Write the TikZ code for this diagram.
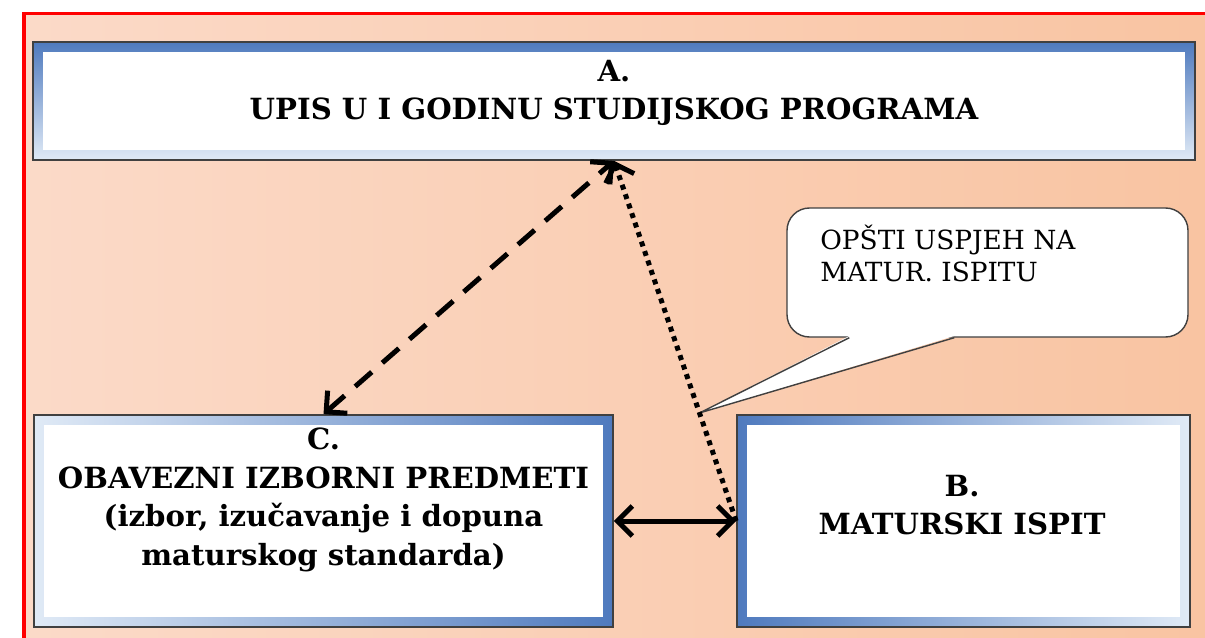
\documentclass[tikz,border=0pt]{standalone}
\usepackage{fontspec}
\setmainfont{DejaVu Serif}
\usetikzlibrary{arrows.meta,calc}
\definecolor{peachL}{RGB}{251,218,200}
\definecolor{peachR}{RGB}{249,196,162}
\definecolor{frameblue}{RGB}{79,122,190}
\definecolor{framelight}{RGB}{224,234,246}
\tikzset{
mybox/.style={
  draw=black!75,
  line width=1pt,
  fill=white,
  minimum height=4.24cm,
  inner sep=0pt
  },
frame/.style={
  path picture={
    \shade[#1] (path picture bounding box.south west)
      rectangle (path picture bounding box.north east);
    \fill[white] ([shift={(0.2,0.2)}]path picture bounding box.south west)
      rectangle ([shift={(-0.2,-0.2)}]path picture bounding box.north east);
    }
  },
boxtext/.style={
  align=center,
  font=\bfseries\fontsize{16.6}{22}\selectfont
  },
notebox/.style={
  draw=black!75,
  line width=0.8pt,
  fill=white,
  rounded corners=0.45cm,
  minimum width=8.02cm,
  minimum height=2.58cm
  },
notetext/.style={
  align=left,
  inner sep=0pt,
  font=\fontsize{15}{18}\selectfont
  }
}

\begin{document}
\begin{tikzpicture}[>={Straight Barb[length=0.3cm,width=0.6cm]}]
\useasboundingbox (0,0) rectangle (24.1,-12.76);
\shade[left color=peachL,right color=peachR]
  (0.48,-0.27) rectangle (24.1,-12.76);
\draw[red,line width=0.07cm]
  (0.48,-12.76) -- (0.48,-0.27) -- (24.1,-0.27);

\node[mybox, minimum width=23.24cm, minimum height=2.36cm,
  frame={top color=frameblue,bottom color=framelight}]
at (12.28,-2.02)
(A) {};
\node[mybox, minimum width=11.58cm,
  frame={left color=framelight,right color=frameblue}]
at (6.47,-10.42)
(C) {};
\node[mybox, minimum width=9.06cm,
  frame={left color=frameblue,right color=framelight}]
at (19.27,-10.42)
(B) {};

\node[boxtext] at (12.28,-1.86)
  (Atext) {A.\\UPIS U I GODINU STUDIJSKOG PROGRAMA};
\node[boxtext] at (6.47,-10.0)
  (Ctext) {C.\\OBAVEZNI IZBORNI PREDMETI\\(izbor, izučavanje i dopuna\\maturskog standarda)};
\node[boxtext] at (19.24,-10.1)
  (Btext) {B.\\MATURSKI ISPIT};

\node[notebox] at (19.75,-5.45)
  (note) {};
\node[notetext, anchor=north west] at (16.4,-4.5)
  (notetext) {OPŠTI USPJEH NA\\MATUR. ISPITU};
\coordinate (tip) at ($(B.west)!0.3!(A.south)$);
\fill[white]
  ([xshift=1.26cm,yshift=1pt]note.south west) -- (tip)
  -- ([xshift=3.36cm,yshift=1pt]note.south west) -- cycle;
\draw[black!75,line width=0.8pt]
  ([xshift=1.26cm]note.south west) -- (tip) -- ([xshift=3.36cm]note.south west);

\begin{scope}[line width=0.1cm]
\draw[<->, dash pattern=on 0.44cm off 0.28cm]
  (C.north) -- (A.south);
\draw[->, dash pattern=on 0.1cm off 0.1cm]
  (B.west) -- (A.south);
\draw[<->]
  (C.east) -- (B.west);
\end{scope}
\end{tikzpicture}
\end{document}
